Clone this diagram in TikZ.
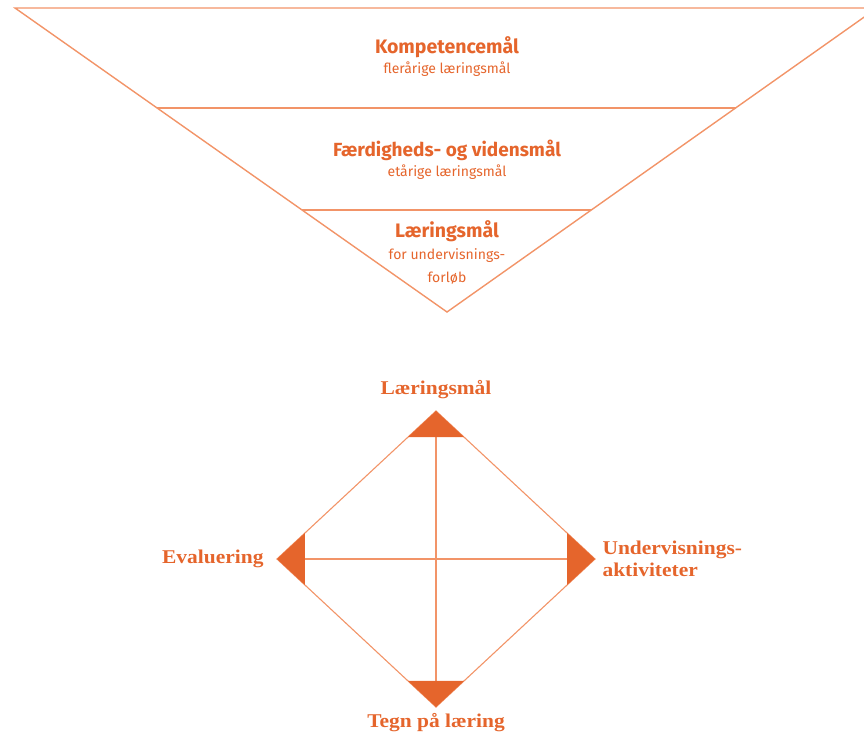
\documentclass[tikz,border=0pt]{standalone}
\usepackage{fontspec}
\setmainfont{Liberation Serif}
\newfontfamily\widerserif[FakeStretch=1.1]{Liberation Serif}
\newfontfamily\narrowsans{Fira Sans}
\usetikzlibrary{positioning,calc}

\definecolor{maalorange}{HTML}{E5652C}
\definecolor{maalline}{HTML}{F29468}

\begin{document}
\begin{tikzpicture}[x=1pt, y=-1pt, node distance=4pt]
    \useasboundingbox (0,0) rectangle (864,737);

    % the pyramid of goals
    \coordinate (tl) at (15,8);
    \coordinate (tr) at (877,8);
    \coordinate (apex) at (447,312);
    \begin{scope}
        \clip (0,0) rectangle (864,737);
        \draw[maalline, line width=1.4pt] (tl) -- (tr) -- (apex) -- cycle;
    \end{scope}
    \draw[maalline, line width=1.4pt] ($(tl)!0.329!(apex)$) -- ($(tr)!0.329!(apex)$);
    \draw[maalline, line width=1.4pt] ($(tl)!0.664!(apex)$) -- ($(tr)!0.664!(apex)$);

    \node[text=maalorange, font=\narrowsans\bfseries\fontsize{19.5}{21}\selectfont] (komp) at (447,47) {Kompetencemål};
    \node[text=maalorange, font=\narrowsans\fontsize{14}{16}\selectfont, below=-3pt of komp] (flere) {flerårige læringsmål};

    \node[text=maalorange, font=\narrowsans\bfseries\fontsize{19}{21}\selectfont] (faerd) at (447,150) {Færdigheds- og vidensmål};
    \node[text=maalorange, font=\narrowsans\fontsize{14}{16}\selectfont, below=-3pt of faerd] (etaar) {etårige læringsmål};

    \node[text=maalorange, font=\narrowsans\bfseries\fontsize{19.5}{21}\selectfont] (laermaal) at (447,231) {Læringsmål};
    \node[text=maalorange, font=\narrowsans\fontsize{14}{22.5}\selectfont, align=center, below=0pt of laermaal] (forloeb) {for undervisnings-\\forløb};

    % the didactic diamond
    \coordinate (n) at (436,411);
    \coordinate (e) at (595,559);
    \coordinate (s) at (436,707);
    \coordinate (w) at (277,559);

    \draw[maalline, line width=1.1pt] (n) -- (e) -- (s) -- (w) -- cycle;
    \draw[maalline, line width=1.1pt] (n) -- (s);
    \draw[maalline, line width=1.1pt] (w) -- (e);

    \fill[maalorange] (n) -- ($(n)!0.176!(w)$) -- ($(n)!0.176!(e)$) -- cycle;
    \fill[maalorange] (e) -- ($(e)!0.176!(n)$) -- ($(e)!0.176!(s)$) -- cycle;
    \fill[maalorange] (s) -- ($(s)!0.176!(e)$) -- ($(s)!0.176!(w)$) -- cycle;
    \fill[maalorange] (w) -- ($(w)!0.176!(s)$) -- ($(w)!0.176!(n)$) -- cycle;

    \node[text=maalorange, font=\widerserif\bfseries\fontsize{19.5}{22}\selectfont, above=9pt of n] (laering) {Læringsmål};
    \node[text=maalorange, font=\widerserif\bfseries\fontsize{19.5}{22}\selectfont, right=4pt of e, align=left] (undervis) {Undervisnings-\\aktiviteter};
    \node[text=maalorange, font=\widerserif\bfseries\fontsize{19.5}{22}\selectfont, below=3pt of s] (tegn) {Tegn på læring};
    \node[text=maalorange, font=\widerserif\bfseries\fontsize{19.5}{22}\selectfont, left=10pt of w] (evaluering) {Evaluering};
\end{tikzpicture}
\end{document}
